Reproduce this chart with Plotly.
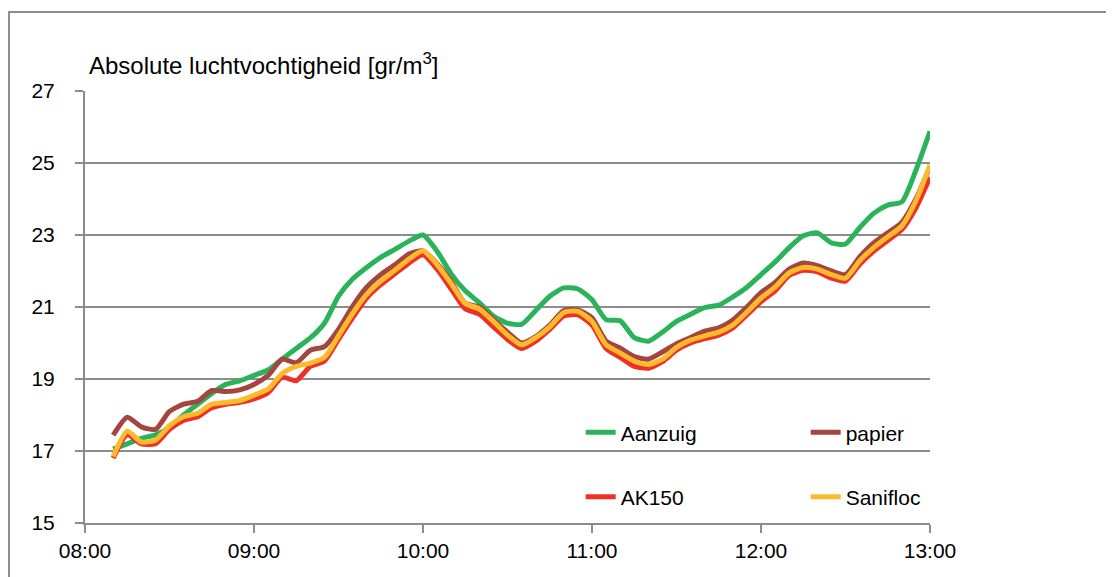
import pandas as pd
import plotly.graph_objects as go

# tijdstippen: elke 5 minuten van 08:10 tot 13:00
tijden = pd.date_range("2000-01-01 08:10", "2000-01-01 13:00", freq="5min")

aanzuig = [17.05, 17.2, 17.35, 17.45, 17.65, 18.0, 18.3, 18.6, 18.85, 18.95,
           19.1, 19.25, 19.55, 19.85, 20.14, 20.55, 21.3, 21.78, 22.1, 22.38,
           22.6, 22.83, 23.0, 22.55, 21.92, 21.45, 21.12, 20.75, 20.55, 20.52,
           20.9, 21.3, 21.53, 21.5, 21.2, 20.65, 20.62, 20.15, 20.05, 20.3,
           20.6, 20.8, 20.98, 21.05, 21.28, 21.55, 21.9, 22.25, 22.65, 22.98,
           23.06, 22.78, 22.75, 23.2, 23.6, 23.83, 23.92, 24.8, 25.88]

papier = [17.44, 17.94, 17.67, 17.6, 18.1, 18.3, 18.38, 18.68, 18.65, 18.7,
          18.85, 19.1, 19.55, 19.45, 19.8, 19.9, 20.38, 21.02, 21.55, 21.9,
          22.17, 22.47, 22.56, 22.2, 21.7, 21.1, 21.0, 20.65, 20.3, 20.0,
          20.18, 20.5, 20.9, 20.92, 20.7, 20.05, 19.86, 19.62, 19.55, 19.75,
          19.98, 20.15, 20.33, 20.42, 20.64, 21.0, 21.4, 21.68, 22.05, 22.22,
          22.15, 22.0, 21.9, 22.39, 22.78, 23.06, 23.35, 24.0, 24.9]

ak150 = [16.8, 17.45, 17.2, 17.2, 17.6, 17.85, 17.95, 18.2, 18.3, 18.35,
         18.45, 18.62, 19.05, 18.95, 19.35, 19.5, 20.1, 20.7, 21.25, 21.62,
         21.92, 22.22, 22.45, 22.05, 21.5, 20.95, 20.8, 20.45, 20.1, 19.85,
         20.05, 20.38, 20.75, 20.78, 20.5, 19.85, 19.6, 19.35, 19.3, 19.48,
         19.8, 20.0, 20.12, 20.22, 20.42, 20.78, 21.15, 21.45, 21.88, 22.02,
         21.98, 21.8, 21.72, 22.18, 22.55, 22.85, 23.15, 23.75, 24.6]

sanifloc = [16.85, 17.55, 17.25, 17.3, 17.7, 17.95, 18.05, 18.3, 18.35, 18.4,
            18.55, 18.72, 19.15, 19.35, 19.44, 19.6, 20.2, 20.82, 21.35, 21.72,
            22.02, 22.33, 22.56, 22.18, 21.65, 21.1, 20.95, 20.6, 20.22, 19.95,
            20.15, 20.45, 20.85, 20.88, 20.6, 19.95, 19.72, 19.5, 19.4, 19.55,
            19.88, 20.08, 20.2, 20.3, 20.5, 20.86, 21.25, 21.55, 21.95, 22.1,
            22.05, 21.9, 21.8, 22.28, 22.65, 22.95, 23.25, 23.95, 24.95]

reeksen = [
    ("Aanzuig", aanzuig, "#2BB35A", "legend"),
    ("papier", papier, "#A2463F", "legend"),
    ("AK150", ak150, "#EE3124", "legend2"),
    ("Sanifloc", sanifloc, "#FDBA2C", "legend2"),
]

familie = "Liberation Sans, Arial, sans-serif"
lettertype = dict(family=familie, size=21, color="#000000")
grijs = "#8C8C8C"

fig = go.Figure()
for naam, waarden, kleur, leg in reeksen:
    fig.add_trace(go.Scatter(x=tijden, y=waarden, name=naam, mode="lines",
                             line=dict(color=kleur, width=5, shape="spline", smoothing=0.6),
                             legend=leg))

fig.update_layout(
    width=1114, height=577,
    margin=dict(l=77, r=192, t=83, b=62),
    paper_bgcolor="white", plot_bgcolor="white",
    font=lettertype,
    legend=dict(orientation="h", x=0.5866, y=0.209, xanchor="left", yanchor="middle",
                entrywidth=180, entrywidthmode="pixels", bgcolor="rgba(0,0,0,0)",
                font=lettertype),
    legend2=dict(orientation="h", x=0.5866, y=0.060, xanchor="left", yanchor="middle",
                 entrywidth=180, entrywidthmode="pixels", bgcolor="rgba(0,0,0,0)",
                 font=lettertype),
)

fig.update_xaxes(
    range=["2000-01-01 08:00", "2000-01-01 13:00"],
    tickformat="%H:%M", dtick=3600000, tick0="2000-01-01 08:00",
    showgrid=False, showline=True, linecolor=grijs, linewidth=2,
    ticks="outside", ticklen=8, tickcolor=grijs, tickwidth=2,
    tickfont=lettertype, zeroline=False,
)
fig.update_yaxes(
    range=[15, 27], dtick=2, tick0=15,
    showgrid=True, gridcolor=grijs, gridwidth=2,
    showline=True, linecolor=grijs, linewidth=2,
    ticks="outside", ticklen=8, tickcolor=grijs, tickwidth=2,
    ticklabelstandoff=16,
    tickfont=lettertype, zeroline=False,
)

# titel van de y-as boven de as
fig.add_annotation(text="Absolute luchtvochtigheid [gr/m<sup>3</sup>]",
                   xref="paper", yref="paper", x=0.0024, y=1.0625,
                   xanchor="left", yanchor="middle", showarrow=False,
                   font=dict(family=familie, size=24, color="#000000"))

# kader rond de grafiek
fig.add_shape(type="rect", xref="paper", yref="paper",
              x0=-0.0899, x1=1.24, y0=-0.25, y1=1.1829,
              line=dict(color=grijs, width=2), fillcolor="rgba(0,0,0,0)",
              layer="below")

fig.write_html("out.html")
